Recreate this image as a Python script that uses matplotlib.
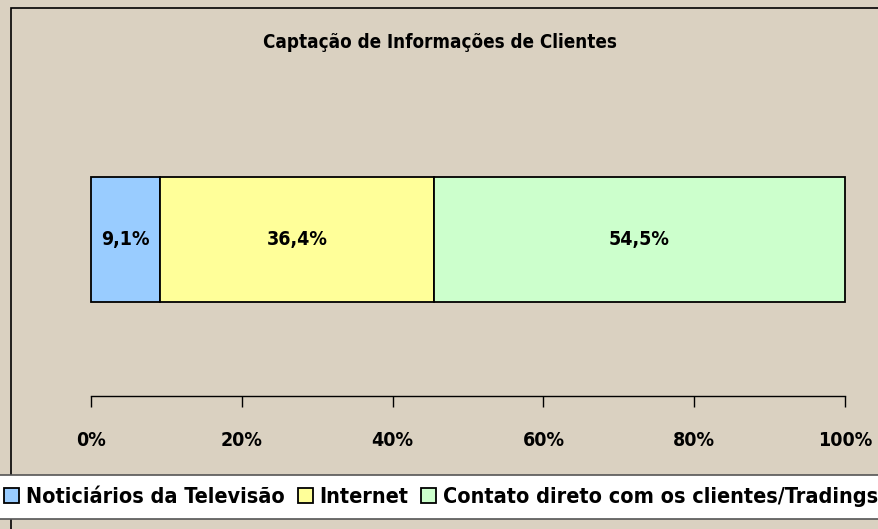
import matplotlib.pyplot as plt
from matplotlib.patches import Rectangle

# data
categories = ["Noticiários da Televisão", "Internet", "Contato direto com os clientes/Tradings"]
values = [9.1, 36.4, 54.5]
labels = ["9,1%", "36,4%", "54,5%"]
colors = ["#99ccff", "#ffff99", "#ccffcc"]
ticks = [0, 20, 40, 60, 80, 100]
tick_labels = ["0%", "20%", "40%", "60%", "80%", "100%"]

plt.rcParams["font.family"] = ["DejaVu Sans"]
plt.rcParams["font.stretch"] = "condensed"
plt.rcParams["font.weight"] = "bold"

W, H = 879, 529
fig = plt.figure(figsize=(W / 100, H / 100), dpi=100)
fig.patch.set_facecolor("#dad1c1")

# outer chart frame (extends past the right/bottom edge)
fig.patches.append(Rectangle((11 / W, 1 - 540 / H), 900 / W, 532 / H,
                             transform=fig.transFigure, fill=False,
                             edgecolor="black", lw=1.2))

ax = fig.add_axes([91 / W, 1 - 396 / H, (845 - 91) / W, (396 - 150) / H])
ax.set_facecolor("none")

left = 0
for v, lab, c, name in zip(values, labels, colors, categories):
    ax.barh(0, v, left=left, height=1.0, color=c, edgecolor="black", lw=1.3,
            label=name, clip_on=False)
    ax.text(left + v / 2, 0, lab, ha="center", va="center", fontsize=14, fontweight="bold")
    left += v

ax.set_xlim(0, 100)
ax.set_ylim(-1.252, 0.716)
ax.set_yticks([])
ax.set_xticks(ticks)
ax.set_xticklabels(tick_labels, fontsize=14, fontweight="bold")
ax.tick_params(axis="x", direction="out", length=8, width=1, pad=17)
for s in ["top", "left", "right"]:
    ax.spines[s].set_visible(False)
ax.spines["bottom"].set_linewidth(1)

fig.text(440 / W, 1 - 43 / H, "Captação de Informações de Clientes",
         ha="center", va="center", fontsize=13.5, fontweight="bold")

h, l = ax.get_legend_handles_labels()
leg = fig.legend(h, l, loc="center", bbox_to_anchor=(441 / W, 1 - 497 / H), ncol=3,
                 prop={"size": 15.5, "weight": "bold", "stretch": "condensed"},
                 frameon=True, fancybox=False, edgecolor="#555555",
                 facecolor="white", framealpha=1, handlelength=0.7, handleheight=0.7,
                 handletextpad=0.3, columnspacing=0.6, borderpad=0.55)
leg.get_frame().set_linewidth(1.2)

fig.savefig("out.png", dpi=100, facecolor=fig.get_facecolor())
